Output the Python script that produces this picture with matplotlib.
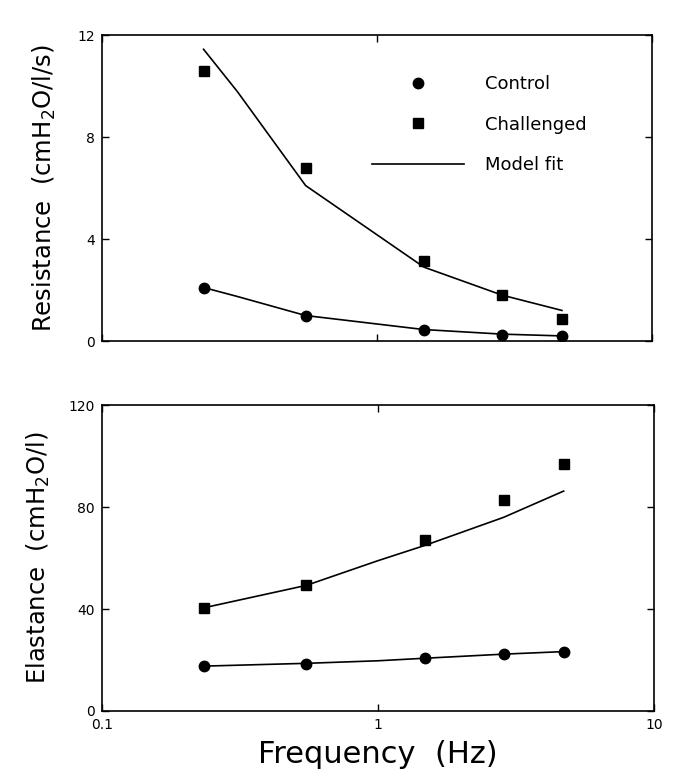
import matplotlib.pyplot as plt
import numpy as np

# frequencies of the measurements (Hz)
freq = [0.234, 0.55, 1.48, 2.85, 4.7]

# resistance (cmH2O/l/s)
res_control = [2.1, 1.0, 0.45, 0.25, 0.18]
res_challenged = [10.6, 6.8, 3.15, 1.8, 0.85]
res_fit_freq = [0.234, 0.31, 0.55, 1.48, 2.85, 4.7]
res_fit_control = [2.1, 1.75, 1.0, 0.45, 0.27, 0.2]
res_fit_challenged = [11.45, 9.8, 6.1, 2.9, 1.8, 1.2]

# elastance (cmH2O/l)
el_control = [17.5, 18.6, 20.8, 22.3, 23.2]
el_challenged = [40.5, 49.3, 67.0, 82.7, 96.9]
el_fit_freq = [0.234, 0.55, 1.0, 1.48, 2.85, 4.7]
el_fit_control = [17.6, 18.7, 19.7, 20.7, 22.3, 23.3]
el_fit_challenged = [40.5, 49.3, 59.0, 65.0, 76.0, 86.3]

plt.rcParams['font.family'] = ['DejaVu Sans']

fig = plt.figure(figsize=(6.8, 7.8), dpi=100)
ax1 = fig.add_axes([0.15, 0.5628, 0.809, 0.392])
ax2 = fig.add_axes([0.15, 0.0885, 0.812, 0.392])

ms = 7.5
lw = 1.2

ax1.plot(res_fit_freq, res_fit_control, color='black', lw=lw)
ax1.plot(res_fit_freq, res_fit_challenged, color='black', lw=lw)
ax1.plot(freq, res_control, 'o', color='black', ms=ms, label='Control')
ax1.plot(freq, res_challenged, 's', color='black', ms=ms, label='Challenged')
ax1.plot([], [], color='black', lw=lw, label='Model fit')

ax2.plot(el_fit_freq, el_fit_control, color='black', lw=lw)
ax2.plot(el_fit_freq, el_fit_challenged, color='black', lw=lw)
ax2.plot(freq, el_control, 'o', color='black', ms=ms)
ax2.plot(freq, el_challenged, 's', color='black', ms=ms)

for ax in (ax1, ax2):
    ax.set_xscale('log')
    ax.set_xlim(0.1, 10)
    ax.set_xticks([0.1, 1, 10])
    ax.minorticks_off()
    ax.tick_params(direction='in', length=5, width=1, top=True, right=True,
                   labelsize=10, pad=5)
    for s in ax.spines.values():
        s.set_linewidth(1.2)

ax1.set_xticklabels([])
ax2.set_xticklabels(['0.1', '1', '10'])

ax1.set_ylim(0, 12)
ax1.set_yticks([0, 4, 8, 12])
ax2.set_ylim(0, 120)
ax2.set_yticks([0, 40, 80, 120])

ax1.set_ylabel('Resistance  (cmH$_2$O/l/s)', fontsize=17.5, labelpad=14)
ax2.set_ylabel('Elastance  (cmH$_2$O/l)', fontsize=17.5, labelpad=12)
ax2.set_xlabel('Frequency  (Hz)', fontsize=22, labelpad=6)

ax1.legend(loc='upper left', bbox_to_anchor=(0.49, 0.87), frameon=False,
           fontsize=13, handlelength=5.1, handletextpad=1.2, labelspacing=1.25,
           borderpad=0, borderaxespad=0)

plt.savefig('out.png', dpi=100)
